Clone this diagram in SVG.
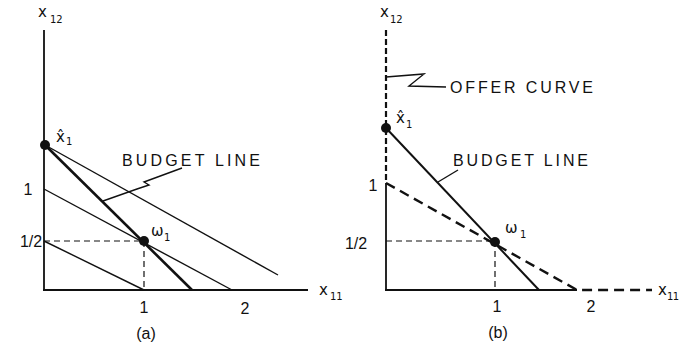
<svg xmlns="http://www.w3.org/2000/svg" width="679" height="354" viewBox="0 0 679 354">
<style>
.ax{stroke:#111;stroke-width:1.8;fill:none}
.thin{stroke:#111;stroke-width:1.4;fill:none}
.thick{stroke:#111;stroke-width:2.6;fill:none}
.guide{stroke:#111;stroke-width:1.2;fill:none;stroke-dasharray:6 4}
.offer{stroke:#111;stroke-width:2.4;fill:none;stroke-dasharray:10 6}
.offerax{stroke:#111;stroke-width:2.2;fill:none;stroke-dasharray:6 3}
.dot{fill:#111}
text{font-family:"Liberation Sans","DejaVu Sans",sans-serif;fill:#111}
.lab{font-size:16px}
.num{font-size:16px}
.var{font-family:"DejaVu Sans",sans-serif;font-size:15px}
.sub{font-family:"DejaVu Sans",sans-serif;font-size:10px}
</style>
<rect width="679" height="354" fill="#fff"/>
<g id="panel-a">
  <g id="a-axes">
    <path class="ax" d="M44,30 V291 M43,290 H308"/>
  </g>
  <g id="a-lines">
    <path class="thin" d="M45,145 L278,275"/>
    <path class="thick" d="M45,145 L192,290"/>
    <path class="thin" d="M44,189 L232,290"/>
    <path class="thin" d="M44,241 L144,290"/>
    <path class="guide" d="M44,241 H144 M144,241 V290"/>
    <path class="thin" d="M182,168 L144,182 L149,185 L137,189 L103,201"/>
  </g>
  <circle class="dot" cx="45" cy="145" r="5"/>
  <circle class="dot" cx="144" cy="241" r="5"/>
  <text class="var" x="38" y="17">x</text><text class="sub" x="50" y="23">12</text>
  <text class="var" x="56" y="142">x̂</text><text class="sub" x="66" y="145">1</text>
  <text class="var" x="151" y="236">ω</text><text class="sub" x="164" y="241">1</text>
  <text class="lab" x="122" y="166" textLength="138" lengthAdjust="spacing">BUDGET LINE</text>
  <text class="num" x="28" y="195" text-anchor="middle">1</text>
  <text class="num" x="31" y="247" text-anchor="middle">1/2</text>
  <text class="num" x="144" y="313" text-anchor="middle">1</text>
  <text class="num" x="245" y="314" text-anchor="middle">2</text>
  <text class="var" x="319" y="295">x</text><text class="sub" x="330" y="300">11</text>
  <text class="num" x="146" y="339" text-anchor="middle">(a)</text>
</g>
<g id="panel-b">
  <g id="b-axes">
    <path class="ax" d="M386,183 V291 M385,290 H577"/>
    <path class="offerax" d="M386,30 V183"/>
  </g>
  <g id="b-lines">
    <path class="offer" d="M386,183 L577,290 H652"/>
    <path class="thick" style="stroke-width:2" d="M386,128 L539,290"/>
    <path class="guide" d="M386,241 H495 M495,241 V290"/>
    <path class="thin" d="M386,77 L424,74 L409,86 L446,87"/>
    <path class="thin" d="M458,170 L438,182"/>
  </g>
  <circle class="dot" cx="386" cy="128" r="5"/>
  <circle class="dot" cx="495" cy="242" r="5"/>
  <text class="var" x="380" y="17">x</text><text class="sub" x="390" y="23">12</text>
  <text class="var" x="396" y="123">x̂</text><text class="sub" x="406" y="128">1</text>
  <text class="lab" x="450" y="93" textLength="143" lengthAdjust="spacing">OFFER CURVE</text>
  <text class="lab" x="453" y="166" textLength="135" lengthAdjust="spacing">BUDGET LINE</text>
  <text class="var" x="505" y="233">ω</text><text class="sub" x="520" y="238">1</text>
  <text class="num" x="373" y="191" text-anchor="middle">1</text>
  <text class="num" x="356" y="249" text-anchor="middle">1/2</text>
  <text class="num" x="497" y="312" text-anchor="middle">1</text>
  <text class="num" x="591" y="312" text-anchor="middle">2</text>
  <text class="var" x="658" y="295">x</text><text class="sub" x="667" y="300" letter-spacing="-0.5">11</text>
  <text class="num" x="498" y="338" text-anchor="middle">(b)</text>
</g>
</svg>
